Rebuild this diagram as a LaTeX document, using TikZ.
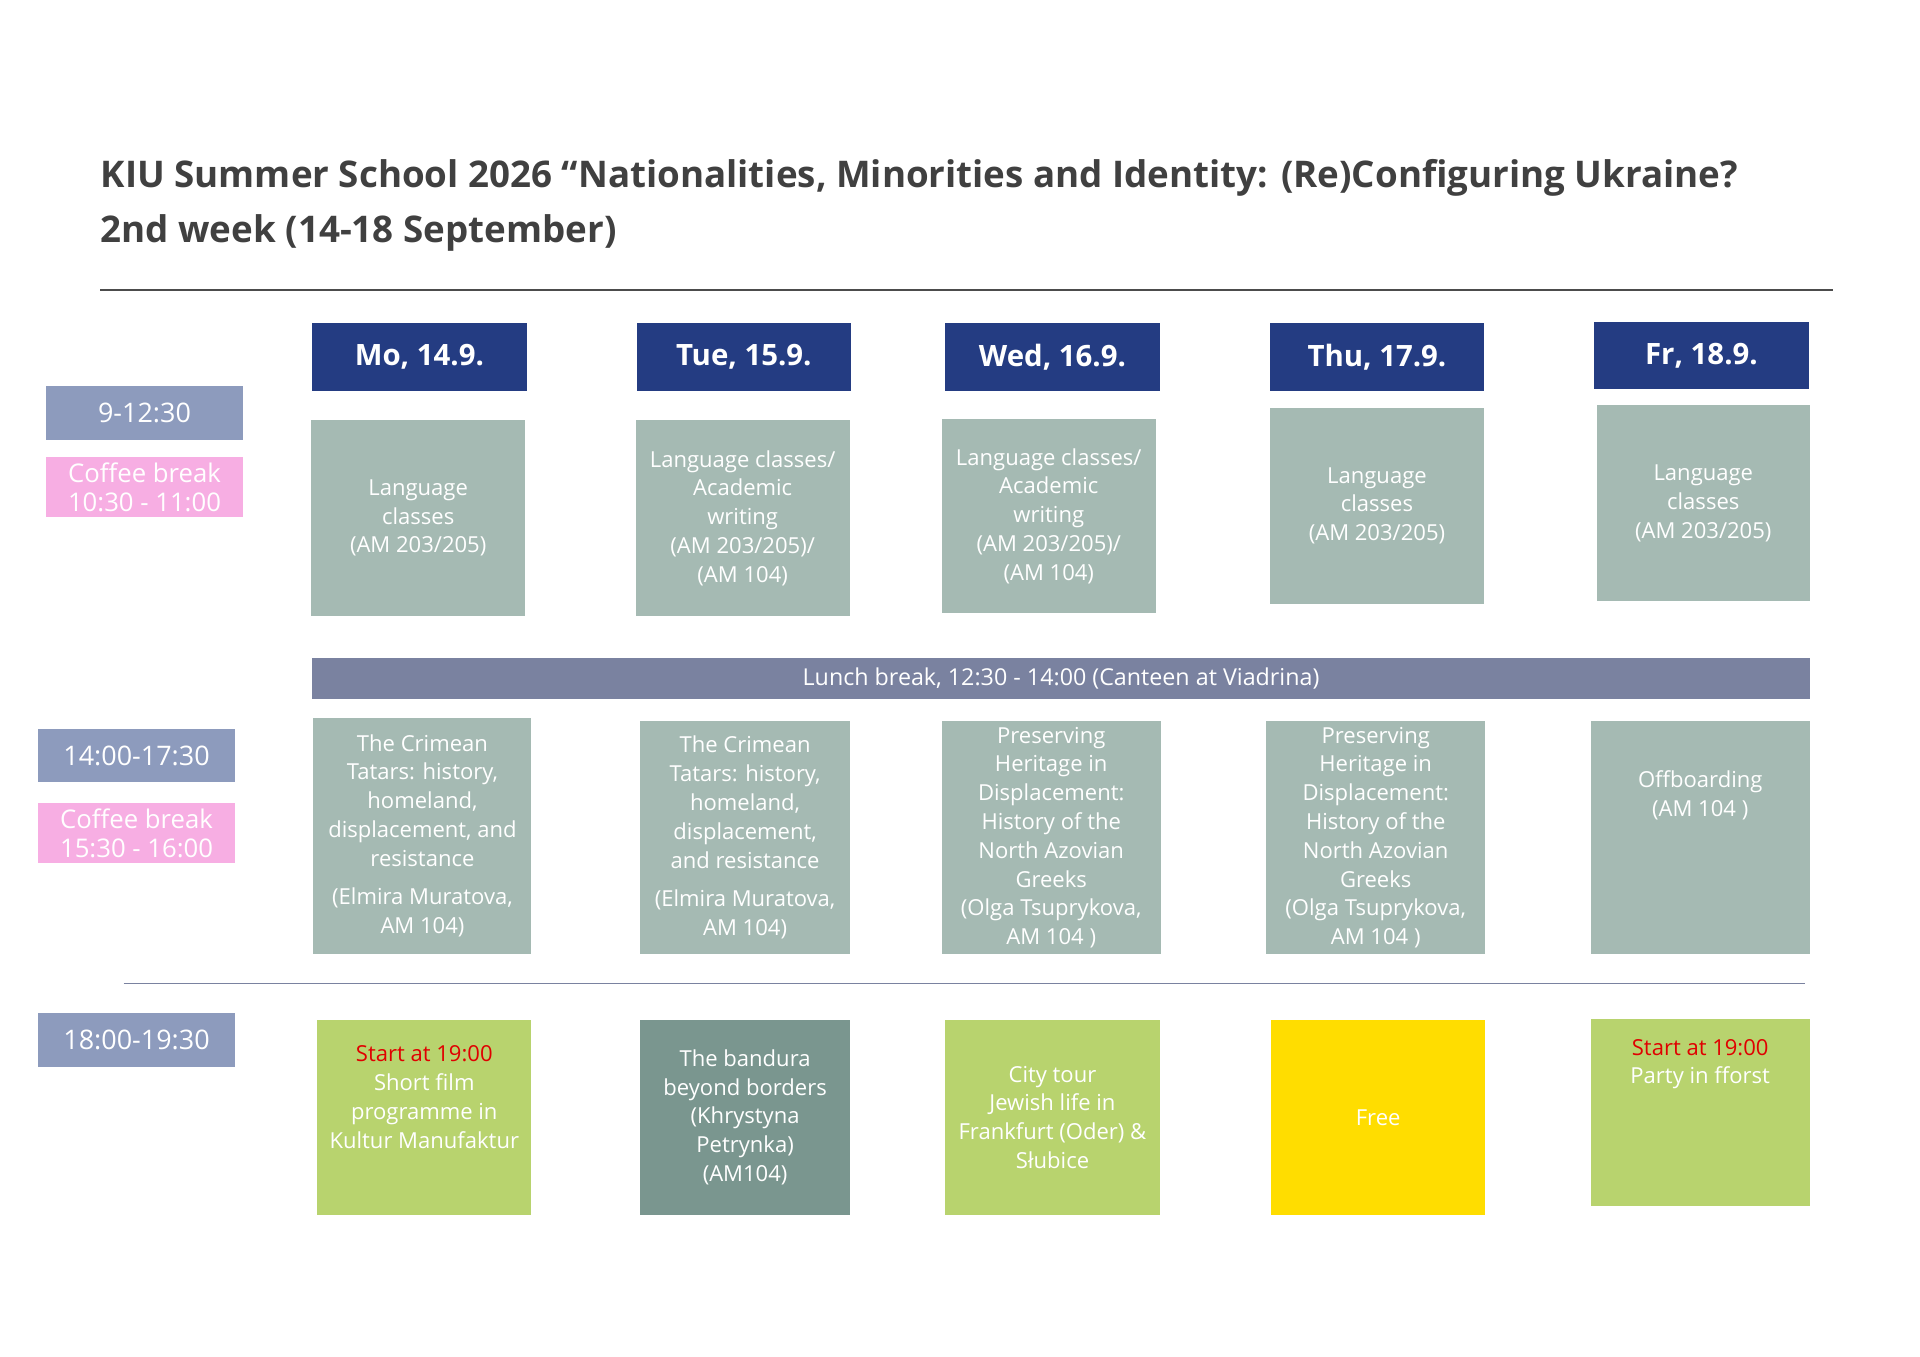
\documentclass[tikz,border=0pt]{standalone}
\usepackage{fontspec}
\setmainfont{Open Sans}
\begin{document}
\definecolor{navy}{HTML}{243C82}
\definecolor{slate}{HTML}{8D9BBD}
\definecolor{pinkish}{HTML}{F7AEE3}
\definecolor{sage}{HTML}{A5BAB3}
\definecolor{darksage}{HTML}{7A968F}
\definecolor{lime}{HTML}{B8D36E}
\definecolor{sun}{HTML}{FFDD00}
\definecolor{lunch}{HTML}{7A82A0}
\definecolor{startred}{HTML}{E00000}
\begin{tikzpicture}[x=1pt,y=-1pt,
    box/.style={fill=sage,text=white,align=center,font=\fontsize{18}{23.5}\selectfont,inner sep=0pt},
    day/.style={fill=navy,text=white,font=\bfseries\fontsize{24}{28}\selectfont,minimum width=175,minimum height=55},
    slot/.style={fill=slate,text=white,font=\fontsize{22}{24}\selectfont,minimum width=161,minimum height=44},
    coffee/.style={fill=pinkish,text=white,align=center,font=\fontsize{21}{23}\selectfont,minimum width=161,minimum height=49,inner sep=0pt}]
\useasboundingbox (0,0) rectangle (1568,1108);
% title
\node [anchor=west,inner sep=0pt,font=\bfseries\fontsize{30}{34}\selectfont,text=black!75] (title1) at (82,145) {KIU Summer School 2026 “Nationalities, Minorities and Identity: (Re)Configuring Ukraine?};
\node [anchor=west,inner sep=0pt,font=\bfseries\fontsize{30}{34}\selectfont,text=black!75] (title2) at (82,190) {2nd week (14-18 September)};
\draw [black!70,line width=2] (82,237) -- (1497,237);
% days
\node [day] (mo) at (342.5,291.5) {Mo, 14.9.};
\node [day] (tu) at (607.5,291.5) {Tue, 15.9.};
\node [day] (we) at (859.5,291.5) {Wed, 16.9.};
\node [day] (th) at (1124.5,291.5) {Thu, 17.9.};
\node [day] (fr) at (1389.5,290.5) {Fr, 18.9.};
% times
\node [slot] (t1) at (118,337) {9-12:30};
\node [coffee] (c1) at (118,398) {Coffee break\\10:30 - 11:00};
\node [slot] (t2) at (111.5,617) {14:00-17:30};
\node [coffee] (c2) at (111.5,680.5) {Coffee break\\15:30 - 16:00};
\node [slot] (t3) at (111.5,849) {18:00-19:30};
% morning
\node [box,minimum width=175,minimum height=160] (m1) at (341.5,423) {Language\\classes\\(AM 203/205)};
\node [box,minimum width=175,minimum height=160] (m2) at (606.5,423) {Language classes/\\Academic\\writing\\(AM 203/205)/\\(AM 104)};
\node [box,minimum width=175,minimum height=159] (m3) at (856.5,421.5) {Language classes/\\Academic\\writing\\(AM 203/205)/\\(AM 104)};
\node [box,minimum width=175,minimum height=160] (m4) at (1124.5,413) {Language\\classes\\(AM 203/205)};
\node [box,minimum width=174,minimum height=160] (m5) at (1391,411) {Language\\classes\\(AM 203/205)};
% lunch
\node [fill=lunch,text=white,font=\fontsize{19}{22}\selectfont,minimum width=1223,minimum height=34] (lunch) at (866.5,554) {Lunch break, 12:30 - 14:00 (Canteen at Viadrina)};
% afternoon
\node [box,minimum width=178,minimum height=193] (a1) at (345,682.5) {The Crimean\\Tatars: history,\\homeland,\\displacement, and\\resistance\\[8pt](Elmira Muratova,\\AM 104)};
\node [box,minimum width=171,minimum height=190] (a2) at (608.5,684) {The Crimean\\Tatars: history,\\homeland,\\displacement,\\and resistance\\[8pt](Elmira Muratova,\\AM 104)};
\node [box,minimum width=179,minimum height=190] (a3) at (858.5,684) {Preserving\\Heritage in\\Displacement:\\History of the\\North Azovian\\Greeks\\(Olga Tsuprykova,\\AM 104 )};
\node [box,minimum width=179,minimum height=190] (a4) at (1123.5,684) {Preserving\\Heritage in\\Displacement:\\History of the\\North Azovian\\Greeks\\(Olga Tsuprykova,\\AM 104 )};
\node [box,minimum width=179,minimum height=190] (a5) at (1388.5,684) {\\[12pt]Offboarding\\(AM 104 )\\[70pt]};
\draw [lunch] (101,803) -- (1474,803);
% evening
\node [box,fill=lime,minimum width=175,minimum height=159] (e1) at (346.5,912.5) {\textcolor{startred}{Start at 19:00}\\Short film\\programme in\\Kultur Manufaktur\\[10pt]};
\node [box,fill=darksage,minimum width=171,minimum height=159] (e2) at (608.5,912.5) {The bandura\\beyond borders\\(Khrystyna\\Petrynka)\\(AM104)};
\node [box,fill=lime,minimum width=175,minimum height=159] (e3) at (859.5,912.5) {City tour\\Jewish life in\\Frankfurt (Oder) \&\\Słubice};
\node [box,fill=sun,minimum width=175,minimum height=159] (e4) at (1125.5,912.5) {Free};
\node [box,fill=lime,minimum width=179,minimum height=153] (e5) at (1388.5,908.5) {\\[-10pt]\textcolor{startred}{Start at 19:00}\\Party in fforst\\[60pt]};
\end{tikzpicture}
\end{document}
